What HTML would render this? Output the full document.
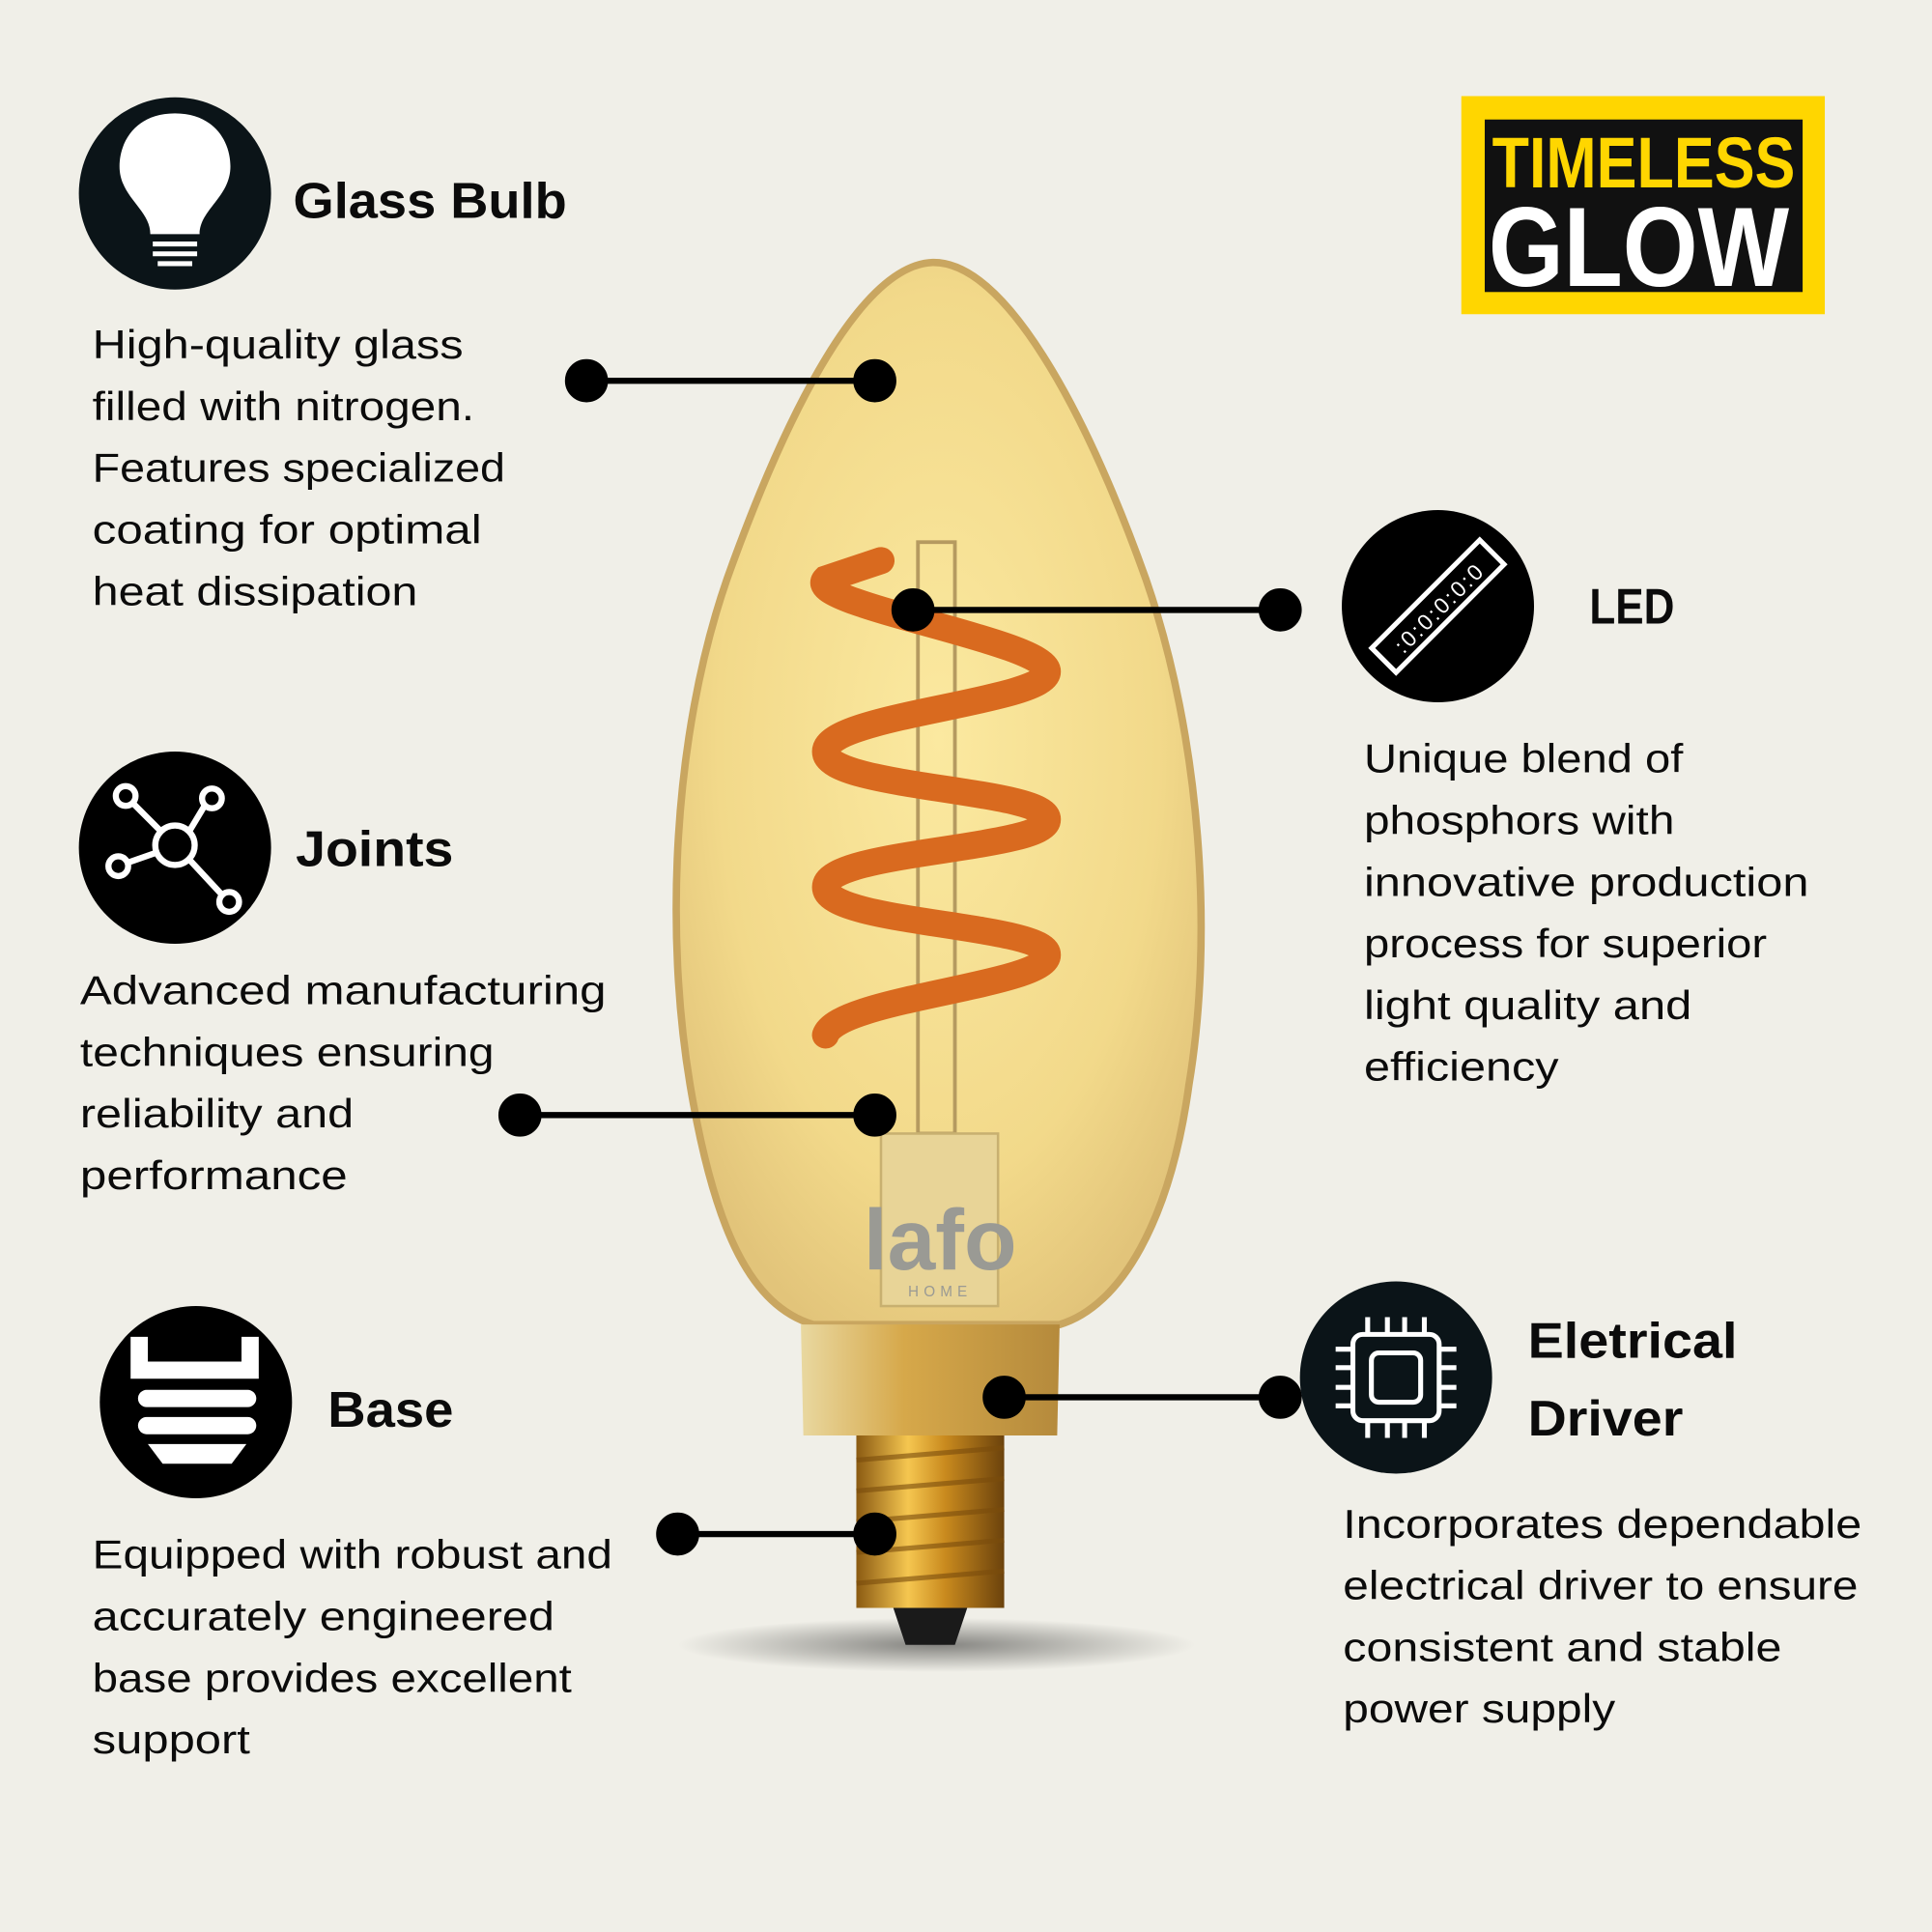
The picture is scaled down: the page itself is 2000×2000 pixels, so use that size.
<!DOCTYPE html>
<html><head><meta charset="utf-8"><style>
html,body{margin:0;padding:0;background:#f0efe8;}
svg{display:block}
text{font-family:"Liberation Sans",sans-serif;fill:#0b0b0b}
.t{font-weight:bold;font-size:41px}
.b{font-size:33px}
</style></head><body>
<svg width="2000" height="2000" viewBox="0 0 1568 1568" xmlns="http://www.w3.org/2000/svg">
<defs>
<radialGradient id="gl" cx="0.5" cy="0.45" r="0.6">
<stop offset="0" stop-color="#fbe9a0"/><stop offset="0.7" stop-color="#f2d98a"/><stop offset="1" stop-color="#e2c47a"/></radialGradient>
<linearGradient id="gold" x1="0" x2="1"><stop offset="0" stop-color="#8a5a12"/><stop offset="0.35" stop-color="#f5c650"/><stop offset="0.6" stop-color="#c98a1e"/><stop offset="1" stop-color="#6b420c"/></linearGradient>
<linearGradient id="col" x1="0" x2="1"><stop offset="0" stop-color="#e9d8a0"/><stop offset="0.4" stop-color="#d6a84a"/><stop offset="1" stop-color="#b58a3c"/></linearGradient>
<radialGradient id="sh"><stop offset="0" stop-color="#000" stop-opacity="0.45"/><stop offset="1" stop-color="#000" stop-opacity="0"/></radialGradient>
</defs>
<rect width="1568" height="1568" fill="#f0efe8"/>
<ellipse cx="760" cy="1335" rx="210" ry="22" fill="url(#sh)"/>
<path d="M757 213 C700 215 640 330 590 470 C545 600 540 760 560 880 C580 1000 610 1060 660 1075 L860 1075 C910 1060 950 990 965 880 C985 760 975 600 930 470 C880 330 815 212 757 213 Z" fill="url(#gl)" stroke="#c9a660" stroke-width="6"/>
<path d="M650 1075 L860 1075 L858 1165 L652 1165 Z" fill="url(#col)"/>
<path d="M695 1165 L815 1165 L815 1305 L695 1305 Z" fill="url(#gold)"/>
<g stroke="#7a4c0c" stroke-width="4" opacity="0.6">
<line x1="695" y1="1185" x2="815" y2="1175"/><line x1="695" y1="1210" x2="815" y2="1200"/><line x1="695" y1="1235" x2="815" y2="1225"/><line x1="695" y1="1260" x2="815" y2="1250"/><line x1="695" y1="1285" x2="815" y2="1275"/></g>
<path d="M725 1305 L785 1305 L775 1335 L735 1335 Z" fill="#1a1a1a"/>
<rect x="745" y="440" width="30" height="480" fill="none" stroke="#b59a60" stroke-width="3"/>
<rect x="715" y="920" width="95" height="140" fill="#e8d497" stroke="#c8b070" stroke-width="2"/>
<path d="M715 455 L670 470 C650 490 850 520 850 545 C850 570 670 580 670 610 C670 640 850 640 850 665 C850 690 670 690 670 720 C670 750 850 750 850 775 C850 800 680 810 670 840" fill="none" stroke="#d96a1f" stroke-width="22" stroke-linecap="round"/>
<text x="763" y="1030" text-anchor="middle" style="font-size:70px;font-weight:bold;fill:#9a9a94">lafo</text>
<text x="763" y="1052" text-anchor="middle" style="font-size:12px;letter-spacing:4px;fill:#9a9a94">HOME</text>
<g stroke="#000" stroke-width="5" fill="#000">
<line x1="476" y1="309" x2="710" y2="309"/><circle cx="476" cy="309" r="15"/><circle cx="710" cy="309" r="15"/>
<line x1="422" y1="905" x2="710" y2="905"/><circle cx="422" cy="905" r="15"/><circle cx="710" cy="905" r="15"/>
<line x1="550" y1="1245" x2="710" y2="1245"/><circle cx="550" cy="1245" r="15"/><circle cx="710" cy="1245" r="15"/>
<line x1="741" y1="495" x2="1039" y2="495"/><circle cx="741" cy="495" r="15"/><circle cx="1039" cy="495" r="15"/>
<line x1="815" y1="1134" x2="1039" y2="1134"/><circle cx="815" cy="1134" r="15"/><circle cx="1039" cy="1134" r="15"/>
</g>
<circle cx="142" cy="157" r="78" fill="#0b1418"/>
<path d="M142 92 C110 92 97 115 97 135 C97 160 122 170 122 190 L162 190 C162 170 187 160 187 135 C187 115 174 92 142 92Z" fill="#fff"/>
<g stroke="#fff" stroke-width="4"><line x1="124" y1="198" x2="160" y2="198"/><line x1="124" y1="206" x2="160" y2="206"/><line x1="128" y1="214" x2="156" y2="214"/></g>
<circle cx="142" cy="688" r="78" fill="#000"/>
<g stroke="#fff" stroke-width="5" fill="none"><circle cx="142" cy="686" r="16"/><circle cx="102" cy="646" r="8"/><circle cx="172" cy="648" r="8"/><circle cx="96" cy="703" r="8"/><circle cx="186" cy="732" r="8"/>
<line x1="130" y1="674" x2="108" y2="652"/><line x1="154" y1="674" x2="166" y2="654"/><line x1="127" y1="692" x2="104" y2="700"/><line x1="154" y1="698" x2="180" y2="726"/></g>
<circle cx="159" cy="1138" r="78" fill="#000"/>
<g fill="#fff"><path d="M106 1085 h14 v20 h76 v-20 h14 v34 h-104z"/><rect x="112" y="1128" width="96" height="14" rx="7"/><rect x="112" y="1150" width="96" height="14" rx="7"/><path d="M120 1172 h80 l-12 16 h-56z"/></g>
<circle cx="1167" cy="492" r="78" fill="#000"/>
<g transform="rotate(-45 1167 492)"><rect x="1105" y="478" width="124" height="28" fill="none" stroke="#fff" stroke-width="4"/><text x="1167" y="500" text-anchor="middle" style="fill:#fff;font-size:18px;letter-spacing:2px">:0:0:0:0:0</text></g>
<circle cx="1133" cy="1118" r="78" fill="#0b1418"/>
<g stroke="#fff" stroke-width="4" fill="none"><rect x="1098" y="1083" width="70" height="70" rx="8"/><rect x="1113" y="1098" width="40" height="40" rx="6"/>
<path d="M1110 1083v-14M1126 1083v-14M1140 1083v-14M1156 1083v-14M1110 1153v14M1126 1153v14M1140 1153v14M1156 1153v14M1098 1095h-14M1098 1110h-14M1098 1126h-14M1098 1141h-14M1168 1095h14M1168 1110h14M1168 1126h14M1168 1141h14"/></g>
<g lengthAdjust="spacingAndGlyphs">
<text class="t" x="238" y="177" textLength="222" lengthAdjust="spacingAndGlyphs">Glass Bulb</text>
<text class="t" x="240" y="703" textLength="128" lengthAdjust="spacingAndGlyphs">Joints</text>
<text class="t" x="266" y="1158" textLength="102" lengthAdjust="spacingAndGlyphs">Base</text>
<text class="t" x="1290" y="506" textLength="69" lengthAdjust="spacingAndGlyphs">LED</text>
<text class="t" x="1240" y="1102" textLength="170" lengthAdjust="spacingAndGlyphs">Eletrical</text>
<text class="t" x="1240" y="1165" textLength="126" lengthAdjust="spacingAndGlyphs">Driver</text>
<text class="b" x="75" y="291" textLength="301" lengthAdjust="spacingAndGlyphs">High-quality glass</text>
<text class="b" x="75" y="341" textLength="310" lengthAdjust="spacingAndGlyphs">filled with nitrogen.</text>
<text class="b" x="75" y="391" textLength="335" lengthAdjust="spacingAndGlyphs">Features specialized</text>
<text class="b" x="75" y="441" textLength="316" lengthAdjust="spacingAndGlyphs">coating for optimal</text>
<text class="b" x="75" y="491" textLength="264" lengthAdjust="spacingAndGlyphs">heat dissipation</text>
<text class="b" x="65" y="815" textLength="427" lengthAdjust="spacingAndGlyphs">Advanced manufacturing</text>
<text class="b" x="65" y="865" textLength="336" lengthAdjust="spacingAndGlyphs">techniques ensuring</text>
<text class="b" x="65" y="915" textLength="222" lengthAdjust="spacingAndGlyphs">reliability and</text>
<text class="b" x="65" y="965" textLength="217" lengthAdjust="spacingAndGlyphs">performance</text>
<text class="b" x="75" y="1273" textLength="422" lengthAdjust="spacingAndGlyphs">Equipped with robust and</text>
<text class="b" x="75" y="1323" textLength="375" lengthAdjust="spacingAndGlyphs">accurately engineered</text>
<text class="b" x="75" y="1373" textLength="389" lengthAdjust="spacingAndGlyphs">base provides excellent</text>
<text class="b" x="75" y="1423" textLength="128" lengthAdjust="spacingAndGlyphs">support</text>
<text class="b" x="1107" y="627" textLength="259" lengthAdjust="spacingAndGlyphs">Unique blend of</text>
<text class="b" x="1107" y="677" textLength="252" lengthAdjust="spacingAndGlyphs">phosphors with</text>
<text class="b" x="1107" y="727" textLength="361" lengthAdjust="spacingAndGlyphs">innovative production</text>
<text class="b" x="1107" y="777" textLength="327" lengthAdjust="spacingAndGlyphs">process for superior</text>
<text class="b" x="1107" y="827" textLength="266" lengthAdjust="spacingAndGlyphs">light quality and</text>
<text class="b" x="1107" y="877" textLength="158" lengthAdjust="spacingAndGlyphs">efficiency</text>
<text class="b" x="1090" y="1248" textLength="421" lengthAdjust="spacingAndGlyphs">Incorporates dependable</text>
<text class="b" x="1090" y="1298" textLength="418" lengthAdjust="spacingAndGlyphs">electrical driver to ensure</text>
<text class="b" x="1090" y="1348" textLength="356" lengthAdjust="spacingAndGlyphs">consistent and stable</text>
<text class="b" x="1090" y="1398" textLength="221" lengthAdjust="spacingAndGlyphs">power supply</text>
</g>
<rect x="1186" y="78" width="295" height="177" fill="#ffd600"/>
<rect x="1205" y="97" width="258" height="140" fill="#111"/>
<text x="1334" y="152" text-anchor="middle" textLength="246" lengthAdjust="spacingAndGlyphs" style="font-size:58px;font-weight:bold;fill:#ffd600">TIMELESS</text>
<text x="1330" y="232" text-anchor="middle" textLength="244" lengthAdjust="spacingAndGlyphs" style="font-size:92px;font-weight:bold;fill:#fff">GLOW</text>
</svg>
</body></html>
